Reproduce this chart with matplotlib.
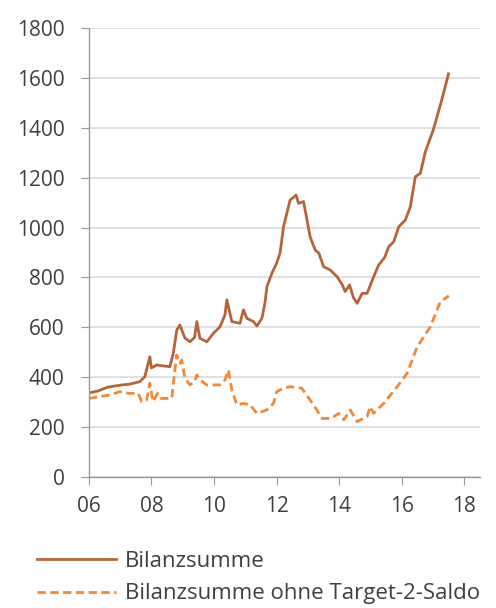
import matplotlib
matplotlib.use("Agg")
import matplotlib.pyplot as plt

# Bilanzsumme (solid line)
bil_years = [2006.0, 2006.3, 2006.6, 2007.0, 2007.3, 2007.63, 2007.79, 2007.95, 2008.0, 2008.17,
             2008.4, 2008.59, 2008.7, 2008.81, 2008.91, 2009.07, 2009.23, 2009.38, 2009.45, 2009.55,
             2009.77, 2009.98, 2010.19, 2010.35, 2010.41, 2010.57, 2010.83, 2010.94, 2011.05, 2011.26,
             2011.37, 2011.53, 2011.63, 2011.69, 2011.85, 2012.0, 2012.11, 2012.22, 2012.43, 2012.62,
             2012.7, 2012.86, 2013.07, 2013.23, 2013.35, 2013.5, 2013.71, 2013.93, 2014.1, 2014.19,
             2014.33, 2014.45, 2014.57, 2014.73, 2014.89, 2015.1, 2015.26, 2015.45, 2015.58, 2015.74,
             2015.9, 2016.11, 2016.27, 2016.43, 2016.59, 2016.75, 2017.0, 2017.25, 2017.49]
bil_values = [337, 345, 360, 368, 372, 382, 402, 482, 437, 449,
              445, 442, 496, 589, 609, 557, 542, 560, 623, 556,
              542, 576, 602, 650, 710, 623, 616, 670, 636, 623,
              605, 636, 700, 763, 817, 857, 898, 1003, 1110, 1130,
              1097, 1104, 963, 910, 897, 843, 830, 803, 770, 743,
              770, 720, 696, 736, 736, 803, 850, 880, 923, 943,
              1003, 1030, 1083, 1204, 1217, 1304, 1390, 1500, 1616]

# Bilanzsumme ohne Target-2-Saldo (dashed line)
ohne_years = [2006.0, 2006.35, 2006.67, 2006.99, 2007.3, 2007.58, 2007.69, 2007.85, 2007.95, 2008.05,
              2008.2, 2008.3, 2008.45, 2008.65, 2008.75, 2008.81, 2008.91, 2008.97, 2009.07, 2009.23,
              2009.38, 2009.45, 2009.55, 2009.77, 2009.98, 2010.19, 2010.35, 2010.46, 2010.57, 2010.73,
              2010.94, 2011.15, 2011.37, 2011.69, 2011.9, 2012.0, 2012.2, 2012.43, 2012.8, 2013.18,
              2013.45, 2013.75, 2013.98, 2014.15, 2014.35, 2014.57, 2014.89, 2014.99, 2015.1, 2015.42,
              2015.85, 2016.17, 2016.49, 2016.91, 2017.23, 2017.5]
ohne_values = [315, 322, 329, 342, 335, 335, 302, 309, 376, 302,
               335, 315, 315, 315, 429, 489, 456, 469, 396, 369,
               382, 409, 389, 369, 369, 369, 389, 429, 349, 289,
               295, 289, 255, 269, 295, 342, 355, 362, 356, 289,
               235, 235, 255, 229, 269, 222, 242, 282, 255, 295,
               362, 416, 522, 602, 703, 726]

x_ticks = [2006, 2008, 2010, 2012, 2014, 2016, 2018]
x_labels = ["06", "08", "10", "12", "14", "16", "18"]
y_ticks = [0, 200, 400, 600, 800, 1000, 1200, 1400, 1600, 1800]

plt.rcParams["font.family"] = ["Open Sans", "DejaVu Sans"]
text_color = "#404040"

fig = plt.figure(figsize=(4.96, 6.08), dpi=100)
ax = fig.add_axes([0.179, 0.2155, 0.789, 0.7385])

ax.plot(bil_years, bil_values, color="#B5653C", linewidth=2.0, label="Bilanzsumme")
ax.plot(ohne_years, ohne_values, color="#F08A3A", linewidth=2.0, linestyle=(0, (3, 1.6)),
        label="Bilanzsumme ohne Target-2-Saldo")

ax.set_xlim(2006, 2018.5)
ax.set_ylim(0, 1800)
ax.set_xticks(x_ticks)
ax.set_xticklabels(x_labels)
ax.set_yticks(y_ticks)

ax.grid(axis="y", color="#d9d9d9", linewidth=1.1)
ax.set_axisbelow(True)
for side in ["top", "right"]:
    ax.spines[side].set_visible(False)
for side in ["left", "bottom"]:
    ax.spines[side].set_color("#999999")
    ax.spines[side].set_linewidth(1.0)
ax.tick_params(axis="both", colors="#999999", labelcolor=text_color, labelsize=15, length=5.5)
ax.tick_params(axis="x", pad=8)
ax.tick_params(axis="y", pad=12)

fig.legend(loc="lower left", bbox_to_anchor=(0.0746, 0.006), frameon=False, fontsize=16,
           borderpad=0, borderaxespad=0, handlelength=3.55, handletextpad=0.4,
           labelspacing=0.5, labelcolor=text_color)

fig.savefig("out.png", dpi=100)
